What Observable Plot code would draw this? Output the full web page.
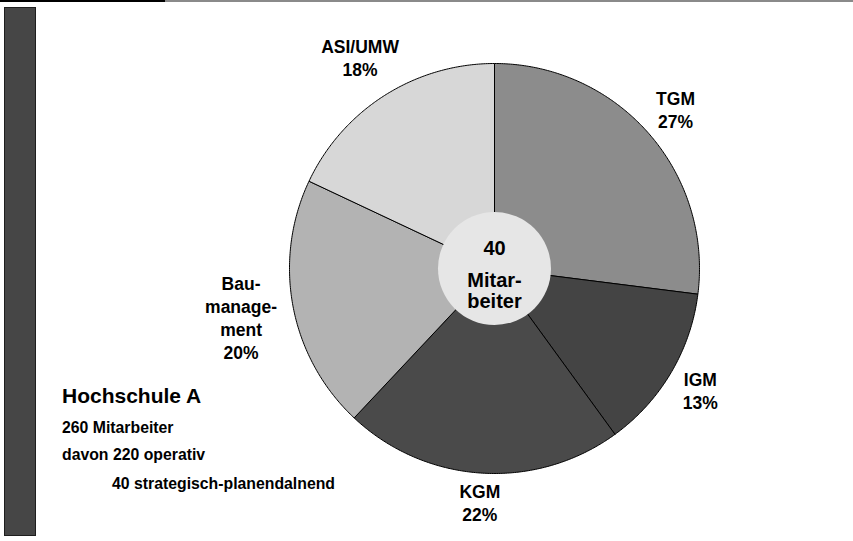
<!DOCTYPE html>
<html>
<head>
<meta charset="utf-8">
<script src="https://cdn.jsdelivr.net/npm/d3@7"></script>
<script src="https://cdn.jsdelivr.net/npm/@observablehq/plot@0.6"></script>
<style>
  html, body { margin: 0; padding: 0; background: #fff; }
  #wrap { position: relative; width: 853px; height: 541px; overflow: hidden; font-family: "Liberation Sans", Arial, Helvetica, sans-serif; }
  #wrap svg { position: absolute; left: 0; top: 0; }
  .rule-black { position: absolute; left: 0; top: 0; width: 165px; height: 2px; background: #000; }
  .rule-grey { position: absolute; left: 165px; top: 0; width: 688px; height: 2px; background: #8a8a8a; }
  .sidebar { position: absolute; left: 4px; top: 7px; width: 30px; height: 527px; background: #464646; border: 1px solid #1e1e1e; }
  .info { position: absolute; left: 62px; font-weight: bold; color: #000; white-space: nowrap; line-height: 1; }
</style>
</head>
<body>
<div id="wrap">
  <div class="rule-black"></div>
  <div class="rule-grey"></div>
  <div class="sidebar"></div>
</div>
<script>
// ---- data ----
const categories = ["TGM", "IGM", "KGM", "Baumanagement", "ASI/UMW"];
const labelTexts = ["TGM", "IGM", "KGM", "Bau-\nmanage-\nment", "ASI/UMW"];
const shares = [27, 13, 22, 20, 18];
const sliceFills = ["#8c8c8c", "#444444", "#4a4a4a", "#b3b3b3", "#d7d7d7"];
const centerCount = 40;
const centerLabel = "Mitar-\nbeiter";
const infoTitle = "Hochschule A";
const infoLines = ["260 Mitarbeiter", "davon 220 operativ", "40 strategisch-planendalnend"];

// ---- layout constants ----
const xRange = [289, 699], yRange = [63, 473];
const Rpx = (xRange[1] - xRange[0]) / 2;
const labelSize = 17.5, labelLH = 1.32, labelPad = 10;
const FONT = "'Liberation Sans', Arial, sans-serif";

// text measuring
const ctx = document.createElement("canvas").getContext("2d");
ctx.font = `bold ${labelSize}px 'Liberation Sans', Arial, sans-serif`;

// ---- build geometry from data ----
const pie = d3.pie().sort(null).value(d => d)(shares);
const polys = [];
const labelsData = [];
pie.forEach((p, i) => {
  const n = Math.max(2, Math.ceil((p.endAngle - p.startAngle) / (Math.PI / 360)));
  polys.push({cat: categories[i], fill: sliceFills[i], x: 0, y: 0});
  for (let k = 0; k <= n; k++) {
    const a = p.startAngle + (p.endAngle - p.startAngle) * k / n;
    polys.push({cat: categories[i], fill: sliceFills[i], x: Math.sin(a), y: -Math.cos(a)});
  }
  polys.push({cat: categories[i], fill: sliceFills[i], x: 0, y: 0});
  const text = labelTexts[i] + "\n" + shares[i] + "%";
  const lines = text.split("\n");
  const w = Math.max(...lines.map(l => ctx.measureText(l).width));
  const h = (lines.length - 1) * labelLH * labelSize + 0.716 * labelSize;
  const mid = (p.startAngle + p.endAngle) / 2;
  const sx = Math.sin(mid), sy = -Math.cos(mid);
  const ext = Math.abs(sx) * w / 2 + Math.abs(sy) * h / 2;
  const dist = (Rpx + labelPad + ext) / Rpx;
  labelsData.push({x: dist * sx, y: dist * sy, text});
});

const chart = Plot.plot({
  width: 853,
  height: 541,
  margin: 0,
  x: {domain: [-1, 1], range: xRange, axis: null},
  y: {domain: [-1, 1], range: yRange, axis: null},
  color: {type: "identity"},
  style: {fontFamily: FONT, background: "transparent"},
  marks: [
    Plot.line(polys, {x: "x", y: "y", z: "cat", fill: "fill", stroke: "#000", strokeWidth: 1, curve: "linear"}),
    Plot.dot([centerCount], {x: () => 0, y: () => 0, r: 56.5, fill: "#e6e6e6", stroke: "none"}),
    Plot.text([centerCount], {x: () => 0, y: () => 0, text: d => String(d), dy: -20, fontSize: 20, fontWeight: "bold", fill: "#000"}),
    Plot.text([centerLabel], {x: () => 0, y: () => 0, text: d => d, dy: 22, fontSize: 20, fontWeight: "bold", lineHeight: 1.08, fill: "#000"}),
    Plot.text(labelsData, {x: "x", y: "y", text: "text", fontSize: labelSize, fontWeight: "bold", lineHeight: labelLH, fill: "#000"})
  ]
});
const wrap = document.getElementById("wrap");
wrap.appendChild(chart);

const title = document.createElement("div");
title.className = "info";
title.style.top = "385px";
title.style.fontSize = "21px";
title.textContent = infoTitle;
wrap.appendChild(title);
const tops = [420, 447, 476];
const lefts = [62, 62, 112];
infoLines.forEach((t, i) => {
  const d = document.createElement("div");
  d.className = "info";
  d.style.top = tops[i] + "px";
  d.style.left = lefts[i] + "px";
  d.style.fontSize = "15.8px";
  d.textContent = t;
  wrap.appendChild(d);
});
</script>
</body>
</html>
